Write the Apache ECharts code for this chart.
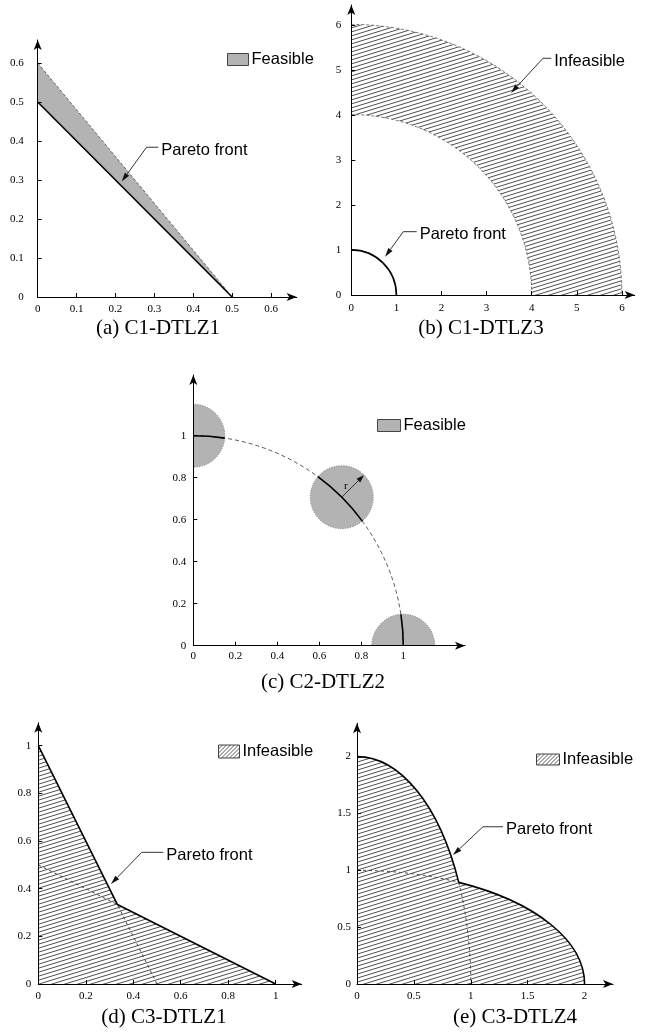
<!DOCTYPE html>
<html>
<head>
<meta charset="utf-8">
<script src="https://cdn.jsdelivr.net/npm/echarts@6/dist/echarts.min.js"></script>
<style>
  html, body { margin: 0; padding: 0; background: #fff; }
  #main { width: 646px; height: 1032px; }
</style>
</head>
<body>
<div id="main"></div>
<script>
// tick labels of each panel
const ticksA = [0, 0.1, 0.2, 0.3, 0.4, 0.5, 0.6]
const ticksB = [0, 1, 2, 3, 4, 5, 6]
const ticksC = [0, 0.2, 0.4, 0.6, 0.8, 1]
const ticksD = [0, 0.2, 0.4, 0.6, 0.8, 1]
const ticksE = [0, 0.5, 1, 1.5, 2]

// (a) C1-DTLZ1
const feasibleA = [[0, 0.5], [0, 0.6], [0.5, 0]]
const frontA = [[0, 0.5], [0.5, 0]]
const boundA = [[0, 0.6], [0.5, 0]]
const noteA = [[0.31, 0.384], [0.28, 0.384], [0.216, 0.296]]

// (b) C1-DTLZ3 (radii)
const frontRadiusB = 1
const infeasibleRadiiB = [4, 6]
const noteB1 = [[4.434, 5.26], [4.25, 5.26], [3.541, 4.489]]
const noteB2 = [[1.45, 1.407], [1.153, 1.407], [0.75, 0.85]]

// (c) C2-DTLZ2
const centersC = [[0, 1], [0.7071, 0.7071], [1, 0]]
const radiusC = 0.15
const frontRadiusC = 1

// (d) C3-DTLZ1
const infeasibleD = [[0, 0], [0, 1], [1 / 3, 1 / 3], [1, 0]]
const frontD = [[0, 1], [1 / 3, 1 / 3], [1, 0]]
const dashD = [[0, 0.5], [1 / 3, 1 / 3], [0.5, 0]]
const noteD = [[0.5265, 0.5526], [0.4356, 0.5526], [0.3062, 0.4196]]

// (e) C3-DTLZ4 (ellipse semi axes [rx, ry] and the kink of the front)
const ellipseE1 = [1, 2]
const ellipseE2 = [2, 1]
const kinkE = [0.894, 0.894]
const noteE = [[1.283, 1.383], [1.107, 1.383], [0.8436, 1.135]]

const SERIF = '"Liberation Serif", "Times New Roman", serif'
const SANS = '"Liberation Sans", Arial, sans-serif'
const GRAY = '#b3b3b3'

function makeHatch(w, h, color) {
  const c = document.createElement('canvas')
  c.width = w
  c.height = h
  const ctx = c.getContext('2d')
  ctx.strokeStyle = color
  ctx.lineWidth = 1
  ctx.beginPath()
  ;[-h, 0, h].forEach(dy => {
    ctx.moveTo(0, h + dy)
    ctx.lineTo(w, dy)
  })
  ctx.stroke()
  return c
}
const hatch = { image: makeHatch(13, 4, '#505050'), repeat: 'repeat' }
const hatchIcon = { image: makeHatch(4, 4, '#555'), repeat: 'repeat' }

const chart = echarts.init(document.getElementById('main'), null, { renderer: 'canvas' })

const grids = [
  { left: 37.7, top: 40, width: 259, height: 257 },
  { left: 351.3, top: 5, width: 283.4, height: 290 },
  { left: 193.3, top: 375, width: 271.7, height: 270.7 },
  { left: 38.3, top: 722.7, width: 263.4, height: 261.3 },
  { left: 357, top: 723.3, width: 256, height: 260.7 }
]
const xMax = [0.666, 6.284, 1.294, 1.1096, 2.2496]
const yMax = [0.659, 6.444, 1.289, 1.0965, 2.2929]
const tickSets = [ticksA, ticksB, ticksC, ticksD, ticksE]
const yMargins = [14, 10, 7, 7, 6]
const xMargins = [7, 8, 5, 7, 7]

function axis(i, isX) {
  return {
    type: 'value',
    gridIndex: i,
    min: 0,
    max: isX ? xMax[i] : yMax[i],
    z: 5,
    axisLine: {
      show: true,
      onZero: false,
      symbol: ['none', 'arrow'],
      symbolSize: [6, 10],
      lineStyle: { color: '#000', width: 1 }
    },
    axisTick: {
      show: true,
      inside: true,
      length: 4,
      customValues: tickSets[i],
      lineStyle: { color: '#000', width: 1 }
    },
    axisLabel: {
      customValues: tickSets[i],
      margin: isX ? xMargins[i] : yMargins[i],
      color: '#000',
      fontFamily: SERIF,
      fontSize: 11
    },
    splitLine: { show: false }
  }
}

function polygonItem(points, style) {
  return (params, api) => ({
    type: 'polygon',
    shape: { points: points.map(p => api.coord(p)) },
    style
  })
}

function noteItem(path, text) {
  return (params, api) => {
    const pts = path.map(p => api.coord(p))
    const tip = pts[pts.length - 1]
    const prev = pts[pts.length - 2]
    const ang = Math.atan2(tip[1] - prev[1], tip[0] - prev[0])
    const L = 9, W = 2.6
    const base = [tip[0] - L * Math.cos(ang), tip[1] - L * Math.sin(ang)]
    const head = [
      tip,
      [base[0] + W * Math.sin(ang), base[1] - W * Math.cos(ang)],
      [base[0] - W * Math.sin(ang), base[1] + W * Math.cos(ang)]
    ]
    return {
      type: 'group',
      children: [
        { type: 'polyline', shape: { points: pts.slice(0, -1).concat([base]) }, style: { stroke: '#333', lineWidth: 1, fill: null } },
        { type: 'polygon', shape: { points: head }, style: { fill: '#111' } },
        {
          type: 'text', x: pts[0][0] + 3, y: pts[0][1] + 3,
          style: { text, font: '16.5px ' + SANS, fill: '#000', align: 'left', verticalAlign: 'middle', textAlign: 'left', textVerticalAlign: 'middle' }
        }
      ]
    }
  }
}

function custom(i, renderItem, extra) {
  return Object.assign({
    type: 'custom',
    xAxisIndex: i,
    yAxisIndex: i,
    data: [[0, 0]],
    silent: true,
    clip: false,
    renderItem
  }, extra || {})
}

function line(i, data, style) {
  return {
    type: 'line',
    xAxisIndex: i,
    yAxisIndex: i,
    data,
    symbol: 'none',
    silent: true,
    lineStyle: style,
    z: 3
  }
}

const dashStyle = { color: '#444', width: 1, type: [3, 3] }

// arcs around the origin of a grid, angles in data degrees (counter clockwise)
function arcShape(api, radius, from, to) {
  const o = api.coord([0, 0])
  const ux = api.size([1, 1])[0]
  return {
    cx: o[0], cy: o[1], r: radius * ux,
    startAngle: -to * Math.PI / 180, endAngle: -from * Math.PI / 180, clockwise: true
  }
}

const series = [
  // (a)
  custom(0, polygonItem(feasibleA, { fill: GRAY }), { name: 'Feasible' }),
  line(0, boundA, { color: '#444', width: 0.8, type: [3, 2] }),
  line(0, frontA, { color: '#000', width: 1.6 }),
  custom(0, noteItem(noteA, 'Pareto front')),

  // (b)
  custom(1, (params, api) => {
    const o = api.coord([0, 0])
    const ux = api.size([1, 1])[0]
    return {
      type: 'group',
      children: [
        {
          type: 'sector',
          shape: { cx: o[0], cy: o[1], r0: infeasibleRadiiB[0] * ux, r: infeasibleRadiiB[1] * ux, startAngle: -Math.PI / 2, endAngle: 0, clockwise: true },
          style: { fill: hatch }
        },
        ...infeasibleRadiiB.map(r => ({
          type: 'arc', shape: arcShape(api, r, 0, 90),
          style: { stroke: '#555', lineWidth: 0.8, lineDash: [3, 2], fill: null }
        })),
        {
          type: 'arc', shape: arcShape(api, frontRadiusB, 0, 90),
          style: { stroke: '#000', lineWidth: 1.6, fill: null }
        }
      ]
    }
  }, { name: 'Infeasible' }),
  custom(1, noteItem(noteB1, 'Infeasible')),
  custom(1, noteItem(noteB2, 'Pareto front')),

  // (c)
  custom(2, (params, api) => {
    const ux = api.size([1, 1])[0]
    const half = 2 * Math.asin(radiusC / 2) * 180 / Math.PI
    const mid = centersC[1]
    const c = api.coord(mid)
    const tip = api.coord([mid[0] + radiusC * Math.SQRT1_2, mid[1] + radiusC * Math.SQRT1_2])
    const ang = Math.atan2(tip[1] - c[1], tip[0] - c[0])
    const base = [tip[0] - 8 * Math.cos(ang), tip[1] - 8 * Math.sin(ang)]
    return {
      type: 'group',
      children: [
        ...centersC.map(p => {
          const q = api.coord(p)
          return {
            type: 'circle', shape: { cx: q[0], cy: q[1], r: radiusC * ux },
            style: { fill: GRAY, stroke: '#777', lineWidth: 1, lineDash: [1, 1.5] }
          }
        }),
        { type: 'arc', shape: arcShape(api, frontRadiusC, 0, 90), style: { stroke: '#444', lineWidth: 0.9, lineDash: [4, 3], fill: null } },
        { type: 'arc', shape: arcShape(api, frontRadiusC, 90 - half, 90), style: { stroke: '#000', lineWidth: 1.6, fill: null } },
        { type: 'arc', shape: arcShape(api, frontRadiusC, 45 - half, 45 + half), style: { stroke: '#000', lineWidth: 1.6, fill: null } },
        { type: 'arc', shape: arcShape(api, frontRadiusC, 0, half), style: { stroke: '#000', lineWidth: 1.6, fill: null } },
        { type: 'line', shape: { x1: c[0], y1: c[1], x2: base[0], y2: base[1] }, style: { stroke: '#333', lineWidth: 1 } },
        {
          type: 'polygon',
          shape: { points: [tip, [base[0] + 2.6 * Math.sin(ang), base[1] - 2.6 * Math.cos(ang)], [base[0] - 2.6 * Math.sin(ang), base[1] + 2.6 * Math.cos(ang)]] },
          style: { fill: '#111' }
        },
        {
          type: 'text', x: c[0] + 4, y: c[1] - 11,
          style: { text: 'r', font: '11px ' + SERIF, fill: '#000', align: 'center', verticalAlign: 'middle', textAlign: 'center', textVerticalAlign: 'middle' }
        }
      ]
    }
  }, { name: 'Feasible', clip: true }),

  // (d)
  custom(3, polygonItem(infeasibleD, { fill: hatch }), { name: 'Infeasible' }),
  line(3, dashD, dashStyle),
  line(3, frontD, { color: '#000', width: 1.6 }),
  custom(3, noteItem(noteD, 'Pareto front')),

  // (e)
  custom(4, (params, api) => {
    const u = api.size([1, 1])
    const p = d => api.coord(d).join(' ')
    const a1 = `A ${ellipseE1[0] * u[0]} ${ellipseE1[1] * u[1]} 0 0 1 `
    const a2 = `A ${ellipseE2[0] * u[0]} ${ellipseE2[1] * u[1]} 0 0 1 `
    const top = [0, ellipseE1[1]], right = [ellipseE2[0], 0]
    const front = `M ${p(top)} ${a1}${p(kinkE)} ${a2}${p(right)}`
    return {
      type: 'group',
      children: [
        { type: 'path', shape: { pathData: `M ${p([0, 0])} L ${p(top)} ${a1}${p(kinkE)} ${a2}${p(right)} Z` }, style: { fill: hatch } },
        { type: 'path', shape: { pathData: `M ${p([0, ellipseE2[1]])} ${a2}${p(kinkE)}` }, style: { stroke: '#444', lineWidth: 1, lineDash: [3, 3], fill: null } },
        { type: 'path', shape: { pathData: `M ${p(kinkE)} ${a1}${p([ellipseE1[0], 0])}` }, style: { stroke: '#444', lineWidth: 1, lineDash: [3, 3], fill: null } },
        { type: 'path', shape: { pathData: front }, style: { stroke: '#000', lineWidth: 1.6, fill: null } }
      ]
    }
  }, { name: 'Infeasible' }),
  custom(4, noteItem(noteE, 'Pareto front'))
]

function legend(name, left, top, color, w, h) {
  return {
    left, top,
    padding: 0,
    itemWidth: w,
    itemHeight: h,
    selectedMode: false,
    icon: 'rect',
    textStyle: { fontFamily: SANS, fontSize: 16.5, color: '#000', padding: [0, 0, 0, -2] },
    data: [{ name, icon: 'rect', itemStyle: { color, borderColor: '#444', borderWidth: 1 } }]
  }
}

const captions = [
  ['(a) C1-DTLZ1', 158, 328],
  ['(b) C1-DTLZ3', 481, 328],
  ['(c) C2-DTLZ2', 323, 682],
  ['(d) C3-DTLZ1', 164, 1017],
  ['(e) C3-DTLZ4', 515, 1017]
]

chart.setOption({
  animation: false,
  backgroundColor: '#fff',
  grid: grids.map(g => Object.assign({ containLabel: false, outerBoundsMode: 'none' }, g)),
  xAxis: grids.map((g, i) => axis(i, true)),
  yAxis: grids.map((g, i) => axis(i, false)),
  legend: [
    legend('Feasible', 227, 51, GRAY, 21, 12),
    legend('Feasible', 377, 417, GRAY, 23, 12),
    legend('Infeasible', 218, 743, hatchIcon, 21, 13),
    legend('Infeasible', 536, 751, hatchIcon, 23, 11)
  ],
  graphic: captions.map(([text, x, y]) => ({
    type: 'text', x, y,
    style: { text, font: '21px ' + SERIF, fill: '#000', align: 'center', verticalAlign: 'middle', textAlign: 'center', textVerticalAlign: 'middle' }
  })),
  series
})
</script>
</body>
</html>
